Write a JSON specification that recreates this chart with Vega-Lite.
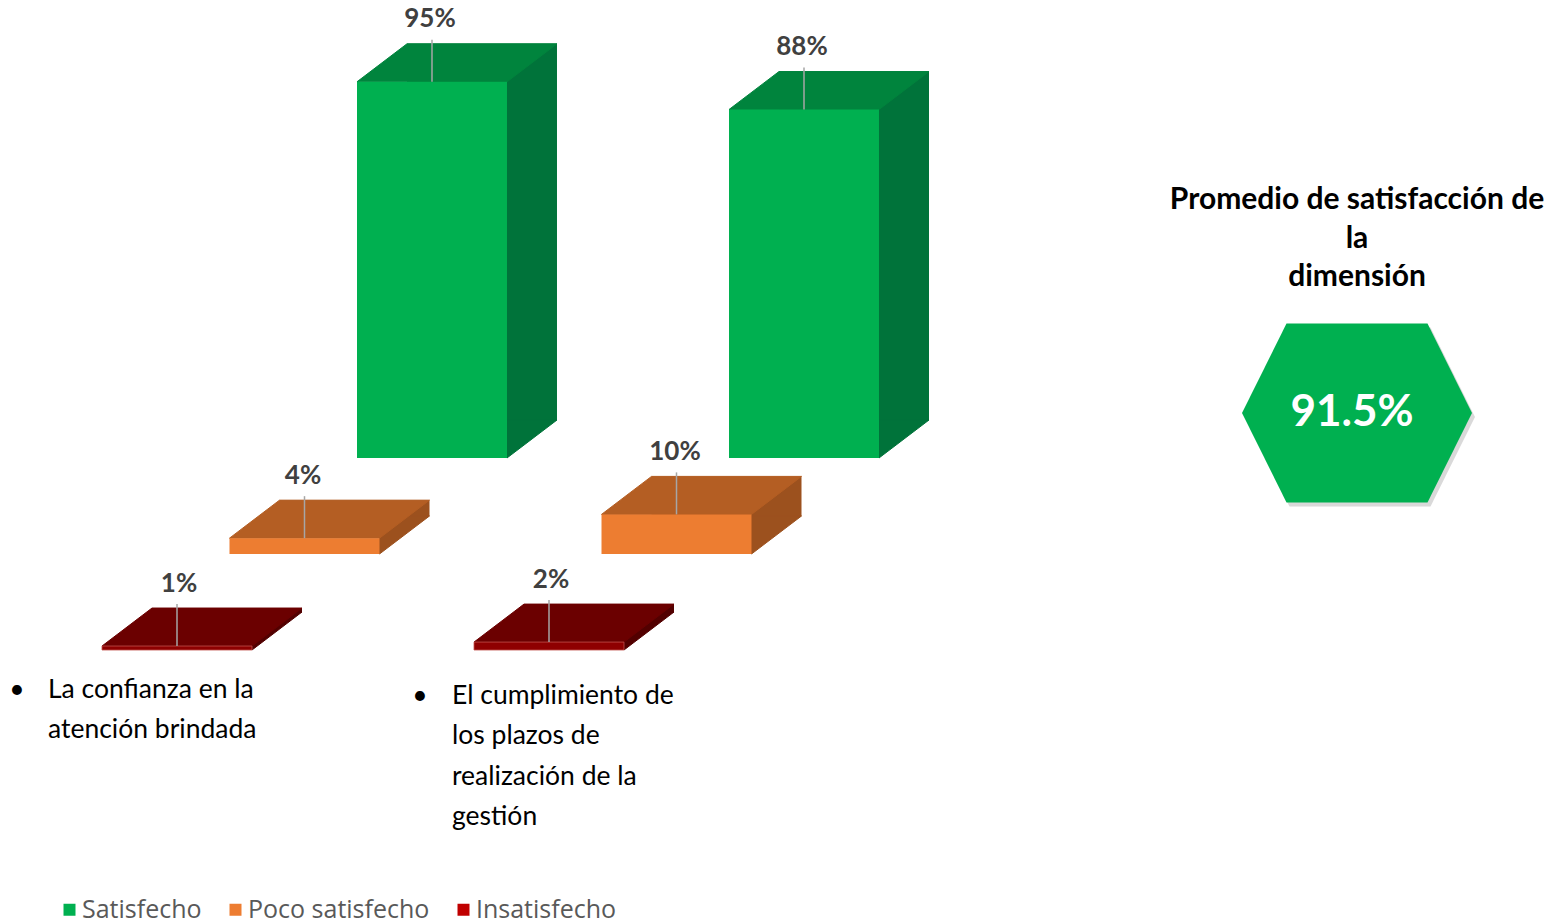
{
  "$schema": "https://vega.github.io/schema/vega-lite/v6.json",
  "padding": {"left": 0, "top": 0, "right": 0, "bottom": 12},
  "background": "white",
  "bounds": "flush",
  "spacing": 441,
  "config": {"view": {"stroke": null}},
  "datasets": {
    "barras": [
      {"Aspecto": "La confianza en la atención brindada", "Nivel": "Satisfecho", "Valor": 0.95},
      {"Aspecto": "La confianza en la atención brindada", "Nivel": "Poco satisfecho", "Valor": 0.04},
      {"Aspecto": "La confianza en la atención brindada", "Nivel": "Insatisfecho", "Valor": 0.01},
      {"Aspecto": "El cumplimiento de los plazos de realización de la gestión", "Nivel": "Satisfecho", "Valor": 0.88},
      {"Aspecto": "El cumplimiento de los plazos de realización de la gestión", "Nivel": "Poco satisfecho", "Valor": 0.10},
      {"Aspecto": "El cumplimiento de los plazos de realización de la gestión", "Nivel": "Insatisfecho", "Valor": 0.02}
    ],
    "kpi": [
      {"Indicador": "Promedio de satisfacción de la dimensión", "Valor": 0.915}
    ]
  },
  "hconcat": [
    {
      "width": 726,
      "height": 650,
      "data": {"name": "barras"},
      "resolve": {"axis": {"x": "independent"}},
      "layer": [
        {"transform": [{"filter": "datum.Nivel == 'Satisfecho'"}],
         "mark": {"type": "bar", "color": "#00733A", "xOffset": 305, "x2Offset": 305, "yOffset": -230, "y2Offset": -230},
         "encoding": {"x": {"field": "Aspecto", "type": "nominal", "axis": null, "scale": {"type": "band", "domain": ["La confianza en la atención brindada", "El cumplimiento de los plazos de realización de la gestión"], "paddingInner": 0.5968, "paddingOuter": 0.2742}},
                      "y": {"field": "Valor", "type": "quantitative", "stack": null, "axis": null, "scale": {"domain": [0, 1.6414], "nice": false}},
                      "y2": {"datum": 0}}},
        {"transform": [{"filter": "datum.Nivel == 'Satisfecho'"}],
         "mark": {"type": "point", "shape": "M1.5,0L1.5,-0.76L2.5,-0.76Z", "size": 10000, "filled": true, "fill": "#00733A", "stroke": "#00733A", "strokeWidth": 1, "opacity": 1, "xOffset": 255, "yOffset": -192},
         "encoding": {"x": {"field": "Aspecto", "type": "nominal", "axis": null, "scale": {"type": "band", "domain": ["La confianza en la atención brindada", "El cumplimiento de los plazos de realización de la gestión"], "paddingInner": 0.5968, "paddingOuter": 0.2742}},
                      "y": {"datum": 0, "type": "quantitative", "axis": null, "scale": {"domain": [0, 1.6414], "nice": false}}}},
        {"transform": [{"filter": "datum.Nivel == 'Satisfecho'"}],
         "mark": {"type": "point", "shape": "M-1.5,0L-0.5,-0.76L2.5,-0.76L1.5,0Z", "size": 10000, "filled": true, "fill": "#00843D", "stroke": "#00843D", "strokeWidth": 1, "opacity": 1, "xOffset": 255, "yOffset": -192},
         "encoding": {"x": {"field": "Aspecto", "type": "nominal", "axis": null, "scale": {"type": "band", "domain": ["La confianza en la atención brindada", "El cumplimiento de los plazos de realización de la gestión"], "paddingInner": 0.5968, "paddingOuter": 0.2742}},
                      "y": {"field": "Valor", "type": "quantitative", "axis": null, "scale": {"domain": [0, 1.6414], "nice": false}}}},
        {"transform": [{"filter": "datum.Nivel == 'Satisfecho'"}],
         "mark": {"type": "bar", "xOffset": 255, "x2Offset": 255, "yOffset": -192, "y2Offset": -192},
         "encoding": {"x": {"field": "Aspecto", "type": "nominal", "axis": null, "scale": {"type": "band", "domain": ["La confianza en la atención brindada", "El cumplimiento de los plazos de realización de la gestión"], "paddingInner": 0.5968, "paddingOuter": 0.2742}},
                      "y": {"field": "Valor", "type": "quantitative", "stack": null, "axis": null, "scale": {"domain": [0, 1.6414], "nice": false}},
                      "y2": {"datum": 0},
                      "color": {"field": "Nivel", "type": "nominal", "scale": {"domain": ["Satisfecho", "Poco satisfecho", "Insatisfecho"], "range": ["#00B050", "#ED7D31", "#C00000"]},
                                "legend": {"orient": "none", "legendX": 57, "legendY": 897, "direction": "horizontal", "title": null, "symbolType": "square", "symbolSize": 144, "symbolStrokeWidth": 0, "labelFont": "Open Sans", "labelFontSize": 25, "labelColor": "#595959", "columnPadding": 21, "labelOffset": 0, "labelLimit": 400}}}},
        {"transform": [{"filter": "datum.Nivel == 'Satisfecho'"}],
         "mark": {"type": "rule", "color": "#A6A6A6", "strokeWidth": 1.5, "xOffset": 255, "yOffset": -192, "y2Offset": -234},
         "encoding": {"x": {"field": "Aspecto", "type": "nominal", "axis": null, "scale": {"type": "band", "domain": ["La confianza en la atención brindada", "El cumplimiento de los plazos de realización de la gestión"], "paddingInner": 0.5968, "paddingOuter": 0.2742}},
                      "y": {"field": "Valor", "type": "quantitative", "axis": null, "scale": {"domain": [0, 1.6414], "nice": false}},
                      "y2": {"field": "Valor"}}},
        {"transform": [{"filter": "datum.Nivel == 'Satisfecho'"}],
         "mark": {"type": "text", "font": "Lato", "fontSize": 26, "fontWeight": "bold", "color": "#404040", "baseline": "middle", "xOffset": 253, "yOffset": -255},
         "encoding": {"x": {"field": "Aspecto", "type": "nominal", "axis": null, "scale": {"type": "band", "domain": ["La confianza en la atención brindada", "El cumplimiento de los plazos de realización de la gestión"], "paddingInner": 0.5968, "paddingOuter": 0.2742}},
                      "y": {"field": "Valor", "type": "quantitative", "axis": null, "scale": {"domain": [0, 1.6414], "nice": false}},
                      "text": {"field": "Valor", "type": "quantitative", "format": ".0%"}}},

        {"transform": [{"filter": "datum.Nivel == 'Poco satisfecho'"}],
         "mark": {"type": "bar", "color": "#9C511E", "xOffset": 177.5, "x2Offset": 177.5, "yOffset": -134, "y2Offset": -134},
         "encoding": {"x": {"field": "Aspecto", "type": "nominal", "axis": null, "scale": {"type": "band", "domain": ["La confianza en la atención brindada", "El cumplimiento de los plazos de realización de la gestión"], "paddingInner": 0.5968, "paddingOuter": 0.2742}},
                      "y": {"field": "Valor", "type": "quantitative", "stack": null, "axis": null, "scale": {"domain": [0, 1.6414], "nice": false}},
                      "y2": {"datum": 0}}},
        {"transform": [{"filter": "datum.Nivel == 'Poco satisfecho'"}],
         "mark": {"type": "point", "shape": "M1.5,0L1.5,-0.76L2.5,-0.76Z", "size": 10000, "filled": true, "fill": "#9C511E", "stroke": "#9C511E", "strokeWidth": 1, "opacity": 1, "xOffset": 127.5, "yOffset": -96},
         "encoding": {"x": {"field": "Aspecto", "type": "nominal", "axis": null, "scale": {"type": "band", "domain": ["La confianza en la atención brindada", "El cumplimiento de los plazos de realización de la gestión"], "paddingInner": 0.5968, "paddingOuter": 0.2742}},
                      "y": {"datum": 0, "type": "quantitative", "axis": null, "scale": {"domain": [0, 1.6414], "nice": false}}}},
        {"transform": [{"filter": "datum.Nivel == 'Poco satisfecho'"}],
         "mark": {"type": "point", "shape": "M-1.5,0L-0.5,-0.76L2.5,-0.76L1.5,0Z", "size": 10000, "filled": true, "fill": "#B45E23", "stroke": "#B45E23", "strokeWidth": 1, "opacity": 1, "xOffset": 127.5, "yOffset": -96},
         "encoding": {"x": {"field": "Aspecto", "type": "nominal", "axis": null, "scale": {"type": "band", "domain": ["La confianza en la atención brindada", "El cumplimiento de los plazos de realización de la gestión"], "paddingInner": 0.5968, "paddingOuter": 0.2742}},
                      "y": {"field": "Valor", "type": "quantitative", "axis": null, "scale": {"domain": [0, 1.6414], "nice": false}}}},
        {"transform": [{"filter": "datum.Nivel == 'Poco satisfecho'"}],
         "mark": {"type": "bar", "xOffset": 127.5, "x2Offset": 127.5, "yOffset": -96, "y2Offset": -96},
         "encoding": {"x": {"field": "Aspecto", "type": "nominal", "axis": null, "scale": {"type": "band", "domain": ["La confianza en la atención brindada", "El cumplimiento de los plazos de realización de la gestión"], "paddingInner": 0.5968, "paddingOuter": 0.2742}},
                      "y": {"field": "Valor", "type": "quantitative", "stack": null, "axis": null, "scale": {"domain": [0, 1.6414], "nice": false}},
                      "y2": {"datum": 0},
                      "color": {"field": "Nivel", "type": "nominal", "scale": {"domain": ["Satisfecho", "Poco satisfecho", "Insatisfecho"], "range": ["#00B050", "#ED7D31", "#C00000"]},
                                "legend": {"orient": "none", "legendX": 57, "legendY": 897, "direction": "horizontal", "title": null, "symbolType": "square", "symbolSize": 144, "symbolStrokeWidth": 0, "labelFont": "Open Sans", "labelFontSize": 25, "labelColor": "#595959", "columnPadding": 21, "labelOffset": 0, "labelLimit": 400}}}},
        {"transform": [{"filter": "datum.Nivel == 'Poco satisfecho'"}],
         "mark": {"type": "rule", "color": "#A6A6A6", "strokeWidth": 1.5, "xOffset": 127.5, "yOffset": -96, "y2Offset": -138},
         "encoding": {"x": {"field": "Aspecto", "type": "nominal", "axis": null, "scale": {"type": "band", "domain": ["La confianza en la atención brindada", "El cumplimiento de los plazos de realización de la gestión"], "paddingInner": 0.5968, "paddingOuter": 0.2742}},
                      "y": {"field": "Valor", "type": "quantitative", "axis": null, "scale": {"domain": [0, 1.6414], "nice": false}},
                      "y2": {"field": "Valor"}}},
        {"transform": [{"filter": "datum.Nivel == 'Poco satisfecho'"}],
         "mark": {"type": "text", "font": "Lato", "fontSize": 26, "fontWeight": "bold", "color": "#404040", "baseline": "middle", "xOffset": 126, "yOffset": -158},
         "encoding": {"x": {"field": "Aspecto", "type": "nominal", "axis": null, "scale": {"type": "band", "domain": ["La confianza en la atención brindada", "El cumplimiento de los plazos de realización de la gestión"], "paddingInner": 0.5968, "paddingOuter": 0.2742}},
                      "y": {"field": "Valor", "type": "quantitative", "axis": null, "scale": {"domain": [0, 1.6414], "nice": false}},
                      "text": {"field": "Valor", "type": "quantitative", "format": ".0%"}}},

        {"transform": [{"filter": "datum.Nivel == 'Insatisfecho'"}],
         "mark": {"type": "bar", "color": "#520000", "xOffset": 50, "x2Offset": 50, "yOffset": -38, "y2Offset": -38},
         "encoding": {"x": {"field": "Aspecto", "type": "nominal", "axis": null, "scale": {"type": "band", "domain": ["La confianza en la atención brindada", "El cumplimiento de los plazos de realización de la gestión"], "paddingInner": 0.5968, "paddingOuter": 0.2742}},
                      "y": {"field": "Valor", "type": "quantitative", "stack": null, "axis": null, "scale": {"domain": [0, 1.6414], "nice": false}},
                      "y2": {"datum": 0}}},
        {"transform": [{"filter": "datum.Nivel == 'Insatisfecho'"}],
         "mark": {"type": "point", "shape": "M1.5,0L1.5,-0.76L2.5,-0.76Z", "size": 10000, "filled": true, "fill": "#520000", "stroke": "#520000", "strokeWidth": 1, "opacity": 1, "xOffset": 0, "yOffset": 0},
         "encoding": {"x": {"field": "Aspecto", "type": "nominal", "axis": null, "scale": {"type": "band", "domain": ["La confianza en la atención brindada", "El cumplimiento de los plazos de realización de la gestión"], "paddingInner": 0.5968, "paddingOuter": 0.2742}},
                      "y": {"datum": 0, "type": "quantitative", "axis": null, "scale": {"domain": [0, 1.6414], "nice": false}}}},
        {"transform": [{"filter": "datum.Nivel == 'Insatisfecho'"}],
         "mark": {"type": "point", "shape": "M-1.5,0L-0.5,-0.76L2.5,-0.76L1.5,0Z", "size": 10000, "filled": true, "fill": "#6B0000", "stroke": "#6B0000", "strokeWidth": 1, "opacity": 1, "xOffset": 0, "yOffset": 0},
         "encoding": {"x": {"field": "Aspecto", "type": "nominal", "axis": null, "scale": {"type": "band", "domain": ["La confianza en la atención brindada", "El cumplimiento de los plazos de realización de la gestión"], "paddingInner": 0.5968, "paddingOuter": 0.2742}},
                      "y": {"field": "Valor", "type": "quantitative", "axis": null, "scale": {"domain": [0, 1.6414], "nice": false}}}},
        {"transform": [{"filter": "datum.Nivel == 'Insatisfecho'"}],
         "mark": {"type": "bar", "color": "#8E0000", "stroke": "#C0504D", "strokeWidth": 0.8, "xOffset": 0, "x2Offset": 0, "yOffset": 0, "y2Offset": 0},
         "encoding": {"x": {"field": "Aspecto", "type": "nominal", "scale": {"type": "band", "domain": ["La confianza en la atención brindada", "El cumplimiento de los plazos de realización de la gestión"], "paddingInner": 0.5968, "paddingOuter": 0.2742},
                            "axis": {"orient": "bottom", "title": null, "domain": false, "ticks": false, "grid": false, "labelAngle": 0,
                                     "labelFont": "Lato", "labelFontSize": 26.5, "labelColor": "#000000", "labelAlign": "left", "labelBaseline": "top",
                                     "labelLineHeight": 40.5, "labelLimit": 600,
                                     "labelExpr": "indexof(datum.value, 'confianza') >= 0 ? ['La confianza en la', 'atención brindada'] : ['El cumplimiento de', 'los plazos de', 'realización de la', 'gestión']",
                                     "labelOffset": {"condition": {"test": "indexof(datum.value, 'confianza') >= 0", "value": -129}, "value": -97},
                                     "labelPadding": {"condition": {"test": "indexof(datum.value, 'confianza') >= 0", "value": 26}, "value": 32}}},
                      "y": {"field": "Valor", "type": "quantitative", "stack": null, "axis": null, "scale": {"domain": [0, 1.6414], "nice": false}},
                      "y2": {"datum": 0}}},
        {"transform": [{"filter": "datum.Nivel == 'Insatisfecho'"}],
         "mark": {"type": "rule", "color": "#A6A6A6", "strokeWidth": 1.5, "xOffset": 0, "yOffset": 0, "y2Offset": -42},
         "encoding": {"x": {"field": "Aspecto", "type": "nominal", "scale": {"type": "band", "domain": ["La confianza en la atención brindada", "El cumplimiento de los plazos de realización de la gestión"], "paddingInner": 0.5968, "paddingOuter": 0.2742},
                            "axis": {"orient": "bottom", "title": null, "domain": false, "ticks": false, "grid": false, "labelAngle": 0,
                                     "labelFont": "Lato", "labelFontSize": 26.5, "labelColor": "#000000", "labelAlign": "center", "labelBaseline": "top", "labelLimit": 600,
                                     "labelExpr": "'•'",
                                     "labelOffset": {"condition": {"test": "indexof(datum.value, 'confianza') >= 0", "value": -160}, "value": -129},
                                     "labelPadding": {"condition": {"test": "indexof(datum.value, 'confianza') >= 0", "value": 26}, "value": 32}}},
                      "y": {"field": "Valor", "type": "quantitative", "axis": null, "scale": {"domain": [0, 1.6414], "nice": false}},
                      "y2": {"field": "Valor"}}},
        {"transform": [{"filter": "datum.Nivel == 'Insatisfecho'"}],
         "mark": {"type": "text", "font": "Lato", "fontSize": 26, "fontWeight": "bold", "color": "#404040", "baseline": "middle", "xOffset": 2, "yOffset": -62},
         "encoding": {"x": {"field": "Aspecto", "type": "nominal", "axis": null, "scale": {"type": "band", "domain": ["La confianza en la atención brindada", "El cumplimiento de los plazos de realización de la gestión"], "paddingInner": 0.5968, "paddingOuter": 0.2742}},
                      "y": {"field": "Valor", "type": "quantitative", "axis": null, "scale": {"domain": [0, 1.6414], "nice": false}},
                      "text": {"field": "Valor", "type": "quantitative", "format": ".0%"}}}
      ]
    },
    {
      "width": 380,
      "height": 826,
      "data": {"name": "kpi"},
      "title": {"text": ["Promedio de satisfacción de", "la", "dimensión"], "font": "Lato", "fontSize": 30, "fontWeight": "bold", "color": "#000000",
                "anchor": "middle", "frame": "group", "baseline": "top", "lineHeight": 38.5, "offset": -292},
      "layer": [
        {"mark": {"type": "point", "shape": "M-1,0L-0.613,-0.778L0.613,-0.778L1,0L0.613,0.778L-0.613,0.778Z", "size": 52900, "filled": true, "color": "#BFBFBF", "opacity": 0.6, "strokeWidth": 0, "xOffset": 3, "yOffset": 4},
         "encoding": {}},
        {"mark": {"type": "point", "shape": "M-1,0L-0.613,-0.778L0.613,-0.778L1,0L0.613,0.778L-0.613,0.778Z", "size": 52900, "filled": true, "color": "#00B050", "opacity": 1, "strokeWidth": 0},
         "encoding": {}},
        {"mark": {"type": "text", "font": "Lato", "fontSize": 44, "fontWeight": "bold", "color": "#FFFFFF", "baseline": "middle", "align": "center", "xOffset": -5},
         "encoding": {"text": {"field": "Valor", "type": "quantitative", "format": ".1%"}}}
      ]
    }
  ]
}
